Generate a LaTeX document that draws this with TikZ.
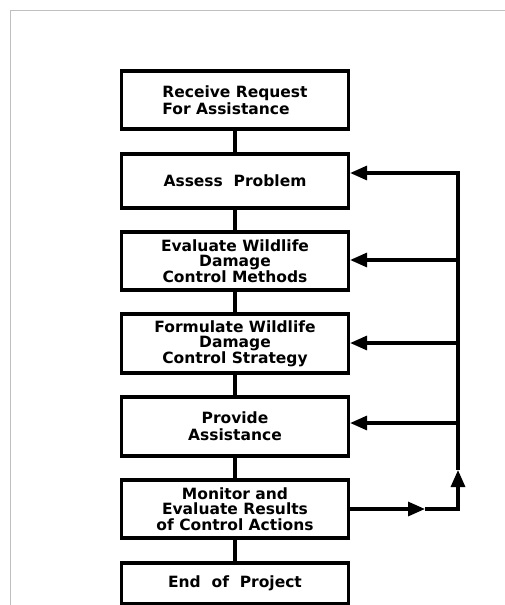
\documentclass[tikz,border=0pt]{standalone}
\usepackage{fontspec}
\setmainfont{DejaVu Sans}
\usetikzlibrary{arrows.meta}
\begin{document}
\begin{tikzpicture}[x=1pt,y=-1pt,
  box/.style={draw, line width=3.2pt, minimum width=227pt, inner sep=0pt,
    font=\fontsize{15.5}{15.5}\selectfont\bfseries, align=center},
  link/.style={line width=3.2pt},
  arr/.style={line width=3.2pt, line join=miter, -{Triangle[length=17pt,width=14pt]}},
  frame/.style={draw=black!25, line width=0.8pt}]
\useasboundingbox (0,0) rectangle (505,605);
\draw[frame] (10,605) -- (10,10) -- (505,10);
\node[box, minimum height=58pt, align=left, font=\fontsize{15.5}{17}\selectfont\bfseries] (b1) at (235,100) {Receive Request\\For Assistance};
\node[box, minimum height=54pt] (b2) at (235,181) {Assess\ \ Problem};
\node[box, minimum height=58pt] (b3) at (235,261) {Evaluate Wildlife\\Damage\\Control Methods};
\node[box, minimum height=59pt] (b4) at (235,343.5) {Formulate Wildlife\\Damage\\Control Strategy};
\node[box, minimum height=59pt, font=\fontsize{15.5}{17}\selectfont\bfseries] (b5) at (235,426.5) {Provide\\Assistance};
\node[box, minimum height=58pt] (b6) at (235,509) {Monitor and\\Evaluate Results\\of Control Actions};
\node[box, minimum height=41pt] (b7) at (235,583.5) {End\ \ of\ \ Project};
\foreach \a/\b in {b1/b2,b2/b3,b3/b4,b4/b5,b5/b6,b6/b7}
  \draw[link] (\a.south) -- (\b.north);
\coordinate (mid) at (425,509);
\coordinate (corner) at (458,509);
\coordinate (up) at (458,470);
\coordinate (f2) at (458,173);
\coordinate (f3) at (458,260);
\coordinate (f4) at (458,343);
\coordinate (f5) at (458,423);
\draw[arr] (b6.east) -- (mid);
\draw[arr] (mid) -- (corner) -- (up);
\draw[arr] (up) -- (f2) -- (f2 -| b2.east);
\draw[arr] (f3) -- (f3 -| b3.east);
\draw[arr] (f4) -- (f4 -| b4.east);
\draw[arr] (f5) -- (f5 -| b5.east);
\end{tikzpicture}
\end{document}
